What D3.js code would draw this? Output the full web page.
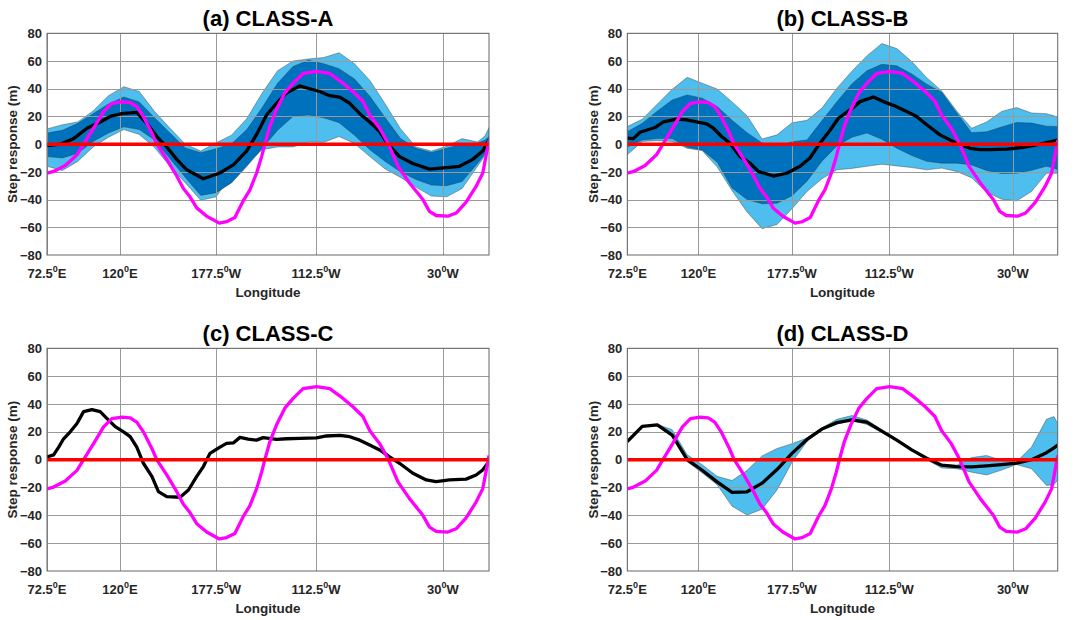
<!DOCTYPE html>
<html>
<head>
<meta charset="utf-8">
<script src="https://cdn.jsdelivr.net/npm/d3@7"></script>
<style>
  body { margin: 0; background: #fff; }
  text { font-family: Arial, "Liberation Sans", sans-serif; font-weight: bold; }
</style>
</head>
<body>
<svg id="chart" width="1077" height="620"></svg>
<script>
// longitude (degrees east) of the spread bands
const lon = [72.5, 82.5, 92.5, 102.5, 112.5, 122.5, 132.5, 142.5, 152.5, 162.5, 172.5, 182.5, 192.5, 202.5, 212.5,
  222.5, 232.5, 242.5, 252.5, 262.5, 272.5, 282.5, 292.5, 302.5, 312.5, 322.5, 332.5, 342.5, 352.5, 357.5, 360];

// magenta reference curve, same in every panel
const refLon = [72.5, 76.8, 84.4, 92, 96.3, 102.8, 109.3, 114.7, 121.2, 126.6, 130.9, 135.2, 140.7, 143.9, 150.4, 156.9,
  161.2, 165.5, 169.9, 176.4, 184.6, 189.3, 194.7, 200.1, 204.5, 208.8, 212.1, 214.2, 217.5, 221.8, 227.2, 232.6, 239.1,
  247.8, 256.4, 265.1, 271.5, 278, 282.4, 288.9, 294.3, 300.8, 308.3, 317, 321.3, 325.6, 333.2, 338.6, 345, 351.6, 355.9,
  358, 360];
const refCurve = [-21, -19.7, -15.4, -7.7, 0, 11.5, 23.5, 29.5, 30.5, 30, 27, 20, 8, 0, -11, -23, -32, -38, -46, -52,
  -57, -56, -53, -41, -33, -21, -9, 0, 13, 25, 37, 44, 51, 52.5, 51, 44, 38, 31, 21, 11.5, 0.7, -16, -28, -40, -48.5,
  -51.5, -52, -49.7, -42, -30.5, -21, -9, 3];

// CLASS-A
const aLon = [72.5, 81.2, 89.8, 98.5, 107.1, 113.6, 121.2, 130.9, 137.4, 143.9, 150.4, 156.9, 163.4, 174.2, 184.6, 193.7,
  202.3, 208.8, 215.3, 221.8, 228.3, 236.9, 243.4, 249.9, 256.4, 262.9, 269.4, 275.9, 282.4, 288.9, 294.3, 301.8, 310.5,
  321.3, 332.1, 340.8, 349.4, 355.9, 360];
const aMean = [-1, 0, 4, 11.5, 16, 20, 22, 23, 15, 5.5, -2, -11, -18.5, -25, -21, -15, -5, 7, 21, 29.5, 37, 42, 40, 38,
  35, 34, 29.5, 22, 16, 9, 0, -9, -14, -18, -17, -16, -11, -5, 3];
const aOuterHi = [11, 14, 16, 24, 35, 41.5, 38, 23.5, 11.5, 0, -5, 1, 6.5, 18.5, 37, 53, 60, 61.5, 62.5, 66, 58, 46, 29, 11,
  -2, -5, -1.5, 4, 1.5, 6, 12];
const aInnerHi = [8, 10, 15, 22, 29, 34, 30.5, 19, 8, -2.7, -6.2, -3.3, 0.2, 10.5, 26.5, 44, 56, 60.5, 58, 54.5, 47, 34.5,
  19, 4, -3, -6, -3, 0, 0.7, 3, 5.5];
const aInnerLo = [-9, -10, -6.5, 2, 8, 12.5, 10.5, 3, -10.5, -24, -37, -35, -28, -16, -3, 10, 20, 21, 19, 15.5, 6.5, -4,
  -12.5, -20, -25.5, -29.5, -30, -27, -14, -7, -2];
const aOuterLo = [-16, -19, -12.5, -2, 5, 10.5, 7, -2.5, -16, -28, -40.5, -38, -22.5, -14, -4, -2, -2, 1.5, 1.3, 5.5, 0.5,
  -9, -18, -24, -31, -37.5, -38, -32, -16, -8, -2];

// CLASS-B
const bLon = [72.5, 76.5, 81, 91, 96.6, 105.5, 112.1, 121.1, 125.5, 130, 135.5, 141.1, 147.8, 154.5, 160, 170, 179,
  187.9, 194.5, 201.2, 207.9, 213.5, 221.3, 228, 236.9, 243.5, 250.2, 259.1, 265.8, 272.5, 281.4, 292.5, 301.5, 308.1,
  314.8, 325.9, 337.1, 348.2, 360];
const bMean = [4.3, 4, 8.6, 12, 16, 18, 17.5, 15.6, 14.7, 11.5, 5.5, 0.7, -9, -13.7, -19.7, -23, -21, -16, -10, 0.7, 10,
  18.7, 24.7, 30.7, 34, 30.7, 28, 23.5, 20, 14, 6.7, 0.7, -3, -4, -4, -3.6, -2.4, 0, 3];
const bOuterHi = [12.7, 18, 28.8, 39.6, 48.2, 44, 39.8, 30.5, 20.5, 3.7, 6.7, 15.4, 17.2, 26, 40.4, 52.6, 63.7, 72.6, 69,
  59.6, 48, 38.4, 24, 11.5, 16, 23.6, 26.4, 22.5, 22, 20.5, 19.5];
const bInnerHi = [9, 15, 23.8, 31.9, 35.5, 33.2, 27.2, 17.2, 8.3, 0.8, -1.7, 1.7, 3, 16.8, 30.6, 43.5, 52.9, 57.6, 56.5,
  50.7, 43.3, 37.5, 22.7, 8.3, 8.9, 12.4, 15.6, 15.2, 13, 12.8, 12.7];
const bInnerLo = [-2, 3, 4, 4, -2.3, -4.3, -13, -31.7, -40, -43, -42.7, -37.2, -26.7, -12.3, -1.4, 5, 8, 3.6, -2.9, -8.2,
  -12.4, -13.7, -13.7, -15, -19, -21.2, -21, -18.9, -16, -17.3, -18.5];
const bOuterLo = [-7.7, 2, 2.5, 2, -3, -4.6, -16.4, -33.6, -48.9, -61, -58, -46.6, -34.2, -25, -18.5, -17.5, -16, -14.5,
  -15.7, -16.9, -18.5, -17.3, -19.7, -24.3, -34.6, -39.7, -41, -34.2, -21, -21, -21];

// CLASS-C
const cLon = [72.5, 76.8, 80.1, 83.3, 87.6, 92, 96.3, 101.7, 107.1, 111.4, 116.9, 122.3, 126.6, 130.9, 135.2, 140.7, 145,
  150.4, 159.1, 164.5, 169.9, 174.2, 178.5, 185, 189.3, 193.7, 198, 203.4, 208.8, 213.1, 221.8, 228.3, 236.9, 247.8,
  254.2, 262.9, 269.4, 275.9, 282.4, 288.9, 295.4, 301.8, 310.5, 319.2, 325.6, 334.3, 345.1, 351.6, 355.9, 360];
const cMean = [2, 3.4, 9, 15, 20, 26, 34.5, 36, 34.5, 29.7, 23.7, 20, 16.5, 9, -2.6, -12, -23, -26.6, -27, -21.8, -12, -5,
  4.5, 9, 11.7, 12, 16, 14.8, 14, 15.8, 14.6, 15, 15.3, 15.6, 17, 17.5, 16.5, 14, 10.5, 7, 2, -2.6, -9.8, -14.6, -15.8,
  -14.6, -14, -11, -7.4, -1.4];

// CLASS-D
const dMean = [13, 23.9, 25, 17.6, 0, -7.6, -16, -23.5, -23.1, -16.9, -7.1, 4.5, 14.5, 22, 26.6, 28.6, 27, 20.5, 14, 7, 1,
  -4, -5, -5.2, -4.5, -3.6, -2.5, 0, 5, 8.5, 10.5];
const dHi = [13, 23.9, 25.5, 21.5, 3.5, -3.6, -12, -15, -7.7, 2.7, 8, 11.5, 15.5, 22.8, 29, 31.7, 28.5, 21.5, 14.7, 7.7,
  1.7, -3.3, -4, 1.5, 3, -0.5, -1.5, 9, 29, 31, 26];
const dLo = [13, 23.9, 24.5, 16.5, -1.5, -9.5, -18, -33.5, -39.8, -35.6, -21.8, -1.9, 13, 21.5, 25.5, 28, 25.3, 19.5, 13.5,
  6.5, 0, -6, -6.5, -9, -11, -7.5, -3.5, -6.5, -18.5, -18, -14.6];

// axis ticks
const yTicks = [-80, -60, -40, -20, 0, 20, 40, 60, 80];
const xTicks = [
  { at: 72.5, num: "72.5", dir: "E" },
  { at: 120, num: "120", dir: "E" },
  { at: 182.5, num: "177.5", dir: "W" },
  { at: 247.5, num: "112.5", dir: "W" },
  { at: 330, num: "30", dir: "W" }
];

const lightBlue = "#4DBEEE";
const darkBlue = "#0072BD";

const panels = [
  { id: "a", title: "(a) CLASS-A", x0: 47, x1: 489, y0: 33.3, y1: 255, meanLon: aLon, mean: aMean,
    bands: [{ lo: aOuterLo, hi: aOuterHi, color: lightBlue }, { lo: aInnerLo, hi: aInnerHi, color: darkBlue }] },
  { id: "b", title: "(b) CLASS-B", x0: 627.3, x1: 1057.7, y0: 33.3, y1: 255, meanLon: bLon, mean: bMean,
    bands: [{ lo: bOuterLo, hi: bOuterHi, color: lightBlue }, { lo: bInnerLo, hi: bInnerHi, color: darkBlue }] },
  { id: "c", title: "(c) CLASS-C", x0: 47, x1: 489, y0: 348.3, y1: 571, meanLon: cLon, mean: cMean, bands: [] },
  { id: "d", title: "(d) CLASS-D", x0: 627.3, x1: 1057.7, y0: 348.3, y1: 571, meanLon: lon, mean: dMean,
    bands: [{ lo: dLo, hi: dHi, color: lightBlue }] }
];

const svg = d3.select("#chart");
const defs = svg.append("defs");

panels.forEach(p => {
  const x = d3.scaleLinear().domain([72.5, 360]).range([p.x0, p.x1]);
  const y = d3.scaleLinear().domain([-80, 80]).range([p.y1, p.y0]);
  const g = svg.append("g");

  defs.append("clipPath").attr("id", "clip-" + p.id)
    .append("rect")
    .attr("x", p.x0).attr("y", p.y0)
    .attr("width", p.x1 - p.x0).attr("height", p.y1 - p.y0);

  const plot = g.append("g").attr("clip-path", `url(#clip-${p.id})`);

  // shaded spread
  p.bands.forEach(b => {
    const area = d3.area()
      .x((d, i) => x(lon[i]))
      .y0((d, i) => y(b.lo[i]))
      .y1((d, i) => y(b.hi[i]));
    plot.append("path").datum(lon)
      .attr("d", area)
      .attr("fill", b.color)
      .attr("stroke", "#333")
      .attr("stroke-opacity", 0.8)
      .attr("stroke-width", 0.5);
  });

  // grid
  plot.selectAll(".hgrid").data(yTicks).enter().append("line")
    .attr("x1", p.x0).attr("x2", p.x1)
    .attr("y1", d => Math.round(y(d)) + 0.5).attr("y2", d => Math.round(y(d)) + 0.5)
    .attr("stroke", "#999").attr("stroke-width", 1);
  plot.selectAll(".vgrid").data(xTicks).enter().append("line")
    .attr("x1", d => Math.round(x(d.at)) + 0.5).attr("x2", d => Math.round(x(d.at)) + 0.5)
    .attr("y1", p.y0).attr("y2", p.y1)
    .attr("stroke", "#999").attr("stroke-width", 1);

  const meanLine = d3.line().x((d, i) => x(p.meanLon[i])).y(d => y(d));
  const refLine = d3.line().x((d, i) => x(refLon[i])).y(d => y(d));

  plot.append("path").datum(p.mean)
    .attr("d", meanLine).attr("fill", "none")
    .attr("stroke", "#000").attr("stroke-width", 3.3).attr("stroke-linejoin", "round");

  plot.append("path").datum(refCurve)
    .attr("d", refLine).attr("fill", "none")
    .attr("stroke", "#FF00FF").attr("stroke-width", 3.3).attr("stroke-linejoin", "round");

  plot.append("line")
    .attr("x1", x(72.5)).attr("x2", x(360))
    .attr("y1", y(0)).attr("y2", y(0))
    .attr("stroke", "#FF0000").attr("stroke-width", 3.5);

  // frame
  g.append("rect")
    .attr("x", p.x0).attr("y", p.y0)
    .attr("width", p.x1 - p.x0).attr("height", p.y1 - p.y0)
    .attr("fill", "none").attr("stroke", "#666").attr("stroke-width", 1);

  // y axis labels
  const yAxis = g.append("g")
    .attr("transform", `translate(${p.x0},0)`)
    .call(d3.axisLeft(y).tickValues(yTicks).tickSize(0).tickPadding(5));
  yAxis.select(".domain").remove();
  yAxis.selectAll("text")
    .attr("font-size", 13).attr("font-weight", "bold")
    .attr("font-family", "Arial, 'Liberation Sans', sans-serif")
    .attr("fill", "#262626");

  // x tick labels with degree superscript
  xTicks.forEach(t => {
    const txt = g.append("text")
      .attr("x", x(t.at)).attr("y", p.y1 + 23)
      .attr("text-anchor", "middle")
      .attr("font-size", 13).attr("fill", "#262626");
    txt.append("tspan").text(t.num);
    txt.append("tspan").attr("font-size", 9).attr("dy", -6).text("0");
    txt.append("tspan").attr("dy", 6).text(t.dir);
  });

  g.append("text")
    .attr("x", (p.x0 + p.x1) / 2).attr("y", p.y1 + 41.5)
    .attr("text-anchor", "middle")
    .attr("font-size", 13.5).attr("fill", "#262626")
    .text("Longitude");

  g.append("text")
    .attr("transform", `translate(${p.x0 - 34.5},${(p.y0 + p.y1) / 2}) rotate(-90)`)
    .attr("text-anchor", "middle")
    .attr("dy", "0.35em")
    .attr("font-size", 13.5).attr("fill", "#262626")
    .text("Step response (m)");

  g.append("text")
    .attr("x", (p.x0 + p.x1) / 2).attr("y", p.y0 - 7.3)
    .attr("text-anchor", "middle")
    .attr("font-size", 22).attr("fill", "#000")
    .text(p.title);
});
</script>
</body>
</html>
